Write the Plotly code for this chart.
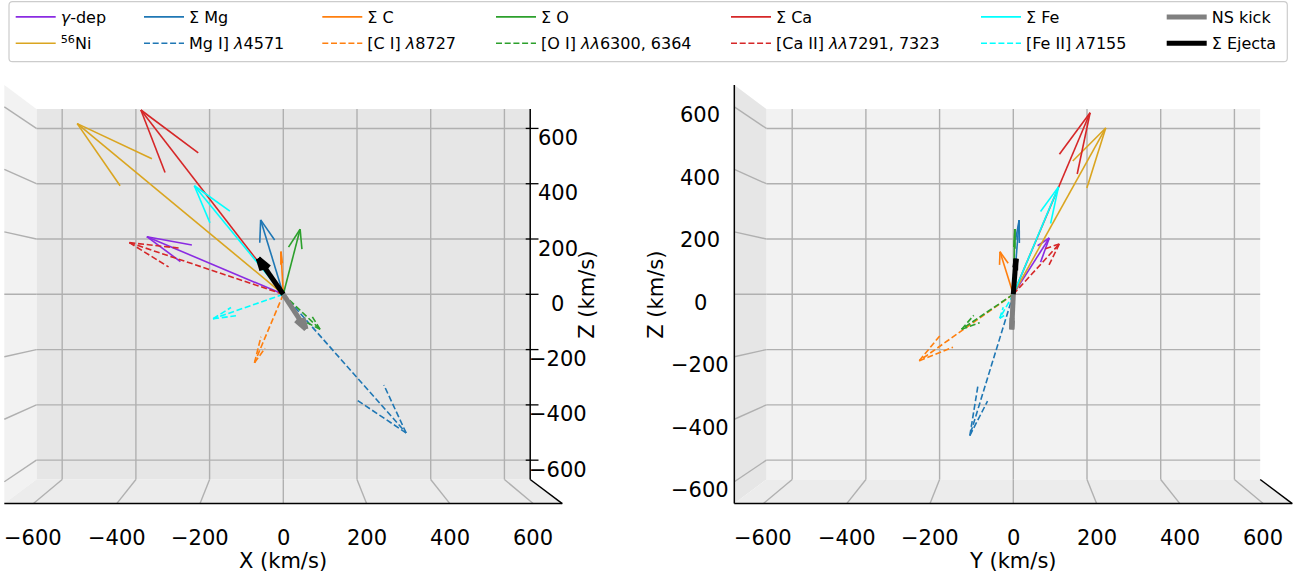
import math
import plotly.graph_objects as go

# ---------------- data (3D velocity vectors, km/s) ----------------
names = ["<i>γ</i>-dep", "<sup>56</sup>Ni", "Σ Mg", "Mg I] <i>λ</i>4571",
         "Σ C", "[C I] <i>λ</i>8727", "Σ O", "[O I] <i>λλ</i>6300, 6364",
         "Σ Ca", "[Ca II] <i>λλ</i>7291, 7323", "Σ Fe", "[Fe II] <i>λ</i>7155",
         "NS kick", "Σ Ejecta"]
vx = [-352, -539, -58, 311, -6, -72, 43, 93, -371, -398, -230, -179, 58, -64]
vy = [95, 248, 15, -108, -34, -242, 4, -131, 203, 122, 118, -35, -4, 7]
vz = [198, 595, 254, -468, 145, -228, 222, -118, 640, 178, 374, -83, -119, 122]
tick_vals = [-600, -400, -200, 0, 200, 400, 600]
tick_text = ["−600", "−400", "−200", "0", "200", "400", "600"]

# ---------------- styles ----------------
colors = ["#8a2be2", "#daa520", "#1f77b4", "#1f77b4", "#ff7f0e", "#ff7f0e",
          "#2ca02c", "#2ca02c", "#d62728", "#d62728", "#00ffff", "#00ffff",
          "#808080", "#000000"]
dashed = [False, False, False, True, False, True, False, True, False, True,
          False, True, False, False]
widths = [1.6] * 12 + [5, 5]
legend_col = [1, 1, 2, 2, 3, 3, 4, 4, 5, 5, 6, 6, 7, 7]
col_line_px = [15.7, 144, 322.3, 496, 731, 981, 1166.7]

W, H = 1301, 578
CY = 294.3
CX = [283.3, 1013.3]
SH, SV = 0.391, 0.2933
F, LIM = 16.4, 670.0
TOP_PX = 62
FONT = "DejaVu Sans"
DASH = "6px,2.7px"


def proj(view, p):
    X, Y, Z = p
    if view == 0:
        g = F / (F + Y / LIM)
        return X * g, Z * g
    g = F / (F - X / LIM)
    return Y * g, Z * g


def heads(U, ratio=0.3):
    u, v, w = U
    n = math.hypot(u, v)
    xp, yp = (v / n, -u / n) if n > 0 else (0.0, 1.0)
    c, s = math.cos(math.radians(15)), math.sin(math.radians(15))
    out = []
    for sg in (1, -1):
        R = [[c + xp * xp * (1 - c), xp * yp * (1 - c), sg * yp * s],
             [xp * yp * (1 - c), c + yp * yp * (1 - c), -sg * xp * s],
             [-sg * yp * s, sg * xp * s, c]]
        d = [sum(R[i][j] * U[j] for j in range(3)) for i in range(3)]
        out.append(tuple(U[i] - ratio * d[i] for i in range(3)))
    return out


fig = go.Figure()
axes = [("x", "y"), ("x2", "y2")]

for i, nm in enumerate(names):
    U = (vx[i], vy[i], vz[i])
    h1, h2 = heads(U)
    pts = [(0, 0, 0), U, None, U, h1, None, U, h2]
    for view in (0, 1):
        xs, ys = [], []
        for p in pts:
            if p is None:
                xs.append(None); ys.append(None)
            else:
                a, b = proj(view, p)
                xs.append(a); ys.append(b)
        lg = "legend" if legend_col[i] == 1 else f"legend{legend_col[i]}"
        fig.add_trace(go.Scatter(
            x=xs, y=ys, mode="lines", name=nm,
            xaxis=axes[view][0], yaxis=axes[view][1],
            line=dict(color=colors[i], width=widths[i],
                      dash=DASH if dashed[i] else "solid"),
            legendgroup=nm, showlegend=(view == 0), legend=lg,
            hoverinfo="skip"))

shapes = []
annotations = []


def u_of(view, px):
    return (px - CX[view]) / SH


def w_of(py):
    return (CY - py) / SV


def poly(view, corners, color):
    pp = [proj(view, c) for c in corners]
    path = "M " + " L ".join(f"{a:.3f},{b:.3f}" for a, b in pp) + " Z"
    shapes.append(dict(type="path", path=path, xref=axes[view][0], yref=axes[view][1],
                       fillcolor=color, line=dict(width=0), layer="below"))


def seg(view, p, q, color, width):
    a, b = proj(view, p)
    c, d = proj(view, q)
    shapes.append(dict(type="line", x0=a, y0=b, x1=c, y1=d,
                       xref=axes[view][0], yref=axes[view][1],
                       line=dict(color=color, width=width), layer="below"))


def label(xref, yref, x, y, text, angle=0):
    annotations.append(dict(x=x, y=y, xref=xref, yref=yref, text=text, showarrow=False,
                            textangle=angle, borderpad=0,
                            font=dict(size=21, family=FONT, color="black"),
                            xanchor="center", yanchor="middle"))


L = LIM
GRID = "#b0b0b0"
GW = 1.4
# ---- left panel: X-Z view ----
poly(0, [(-L, L, -L), (L, L, -L), (L, L, L), (-L, L, L)], "#e6e6e6")
poly(0, [(-L, -L, -L), (-L, L, -L), (-L, L, L), (-L, -L, L)], "#f2f2f2")
poly(0, [(-L, -L, -L), (L, -L, -L), (L, L, -L), (-L, L, -L)], "#ececec")
for t in tick_vals:
    seg(0, (t, L, -L), (t, L, L), GRID, GW)
    seg(0, (-L, L, t), (L, L, t), GRID, GW)
    seg(0, (t, L, -L), (t, -L, -L), GRID, GW)
    seg(0, (-L, L, t), (-L, -L, t), GRID, GW)
seg(0, (-L, -L, -L), (L, -L, -L), "black", 1.5)
seg(0, (L, -L, -L), (L, L, -L), "black", 1.5)
seg(0, (L, L, -L), (L, L, L), "black", 1.5)
for t, tt in zip(tick_vals, tick_text):
    _, wb = proj(0, (L, L, t))
    shapes.append(dict(type="line", x0=u_of(0, 525.7), x1=u_of(0, 538.5), y0=wb, y1=wb,
                       xref="x", yref="y", line=dict(color="black", width=1.3), layer="below"))
    label("x", "y", u_of(0, 557.5), wb - 9.5 / SV, tt)
    uf, _ = proj(0, (t, -L, -L))
    label("x", "y", uf, w_of(538), tt)
label("x", "y", 0, w_of(561), "X (km/s)")
label("x", "y", u_of(0, 586.7), w_of(295), "Z (km/s)", -90)

# ---- right panel: Y-Z view ----
poly(1, [(-L, -L, -L), (-L, L, -L), (-L, L, L), (-L, -L, L)], "#f2f2f2")
poly(1, [(-L, -L, -L), (L, -L, -L), (L, -L, L), (-L, -L, L)], "#e6e6e6")
poly(1, [(-L, -L, -L), (L, -L, -L), (L, L, -L), (-L, L, -L)], "#ececec")
for t in tick_vals:
    seg(1, (-L, t, -L), (-L, t, L), GRID, GW)
    seg(1, (-L, -L, t), (-L, L, t), GRID, GW)
    seg(1, (-L, t, -L), (L, t, -L), GRID, GW)
    seg(1, (-L, -L, t), (L, -L, t), GRID, GW)
seg(1, (L, -L, -L), (L, L, -L), "black", 1.5)
seg(1, (L, L, -L), (-L, L, -L), "black", 1.5)
seg(1, (L, -L, -L), (L, -L, L), "black", 1.5)
for t, tt in zip(tick_vals, tick_text):
    _, wf = proj(1, (L, -L, t))
    label("x2", "y2", u_of(1, 700), wf - 8.5 / SV, tt)
    uf, _ = proj(1, (L, t, -L))
    label("x2", "y2", uf, w_of(538), tt)
label("x2", "y2", 0, w_of(561), "Y (km/s)")
label("x2", "y2", u_of(1, 655.7), w_of(295), "Z (km/s)", -90)

# ---- legend frame (rounded) ----
x0, x1, y0, y1, r = 9.0, 1287.3, 1.7, 61.7, 3.5


def P(px, py):
    return f"{px / W:.5f},{1 - py / H:.5f}"


frame = (f"M {P(x0 + r, y0)} L {P(x1 - r, y0)} Q {P(x1, y0)} {P(x1, y0 + r)} "
         f"L {P(x1, y1 - r)} Q {P(x1, y1)} {P(x1 - r, y1)} L {P(x0 + r, y1)} "
         f"Q {P(x0, y1)} {P(x0, y1 - r)} L {P(x0, y0 + r)} Q {P(x0, y0)} {P(x0 + r, y0)} Z")
shapes.append(dict(type="path", path=frame, xref="paper", yref="paper",
                   line=dict(color="#cccccc", width=1.2), fillcolor="white", layer="below"))

layout = dict(
    width=W, height=H, autosize=False,
    margin=dict(l=0, r=0, t=0, b=0, pad=0),
    paper_bgcolor="white", plot_bgcolor="white",
    font=dict(family=FONT, size=16, color="black"),
    shapes=shapes, annotations=annotations,
    xaxis=dict(domain=[0, 640 / W], range=[u_of(0, 0), u_of(0, 640)], visible=False),
    yaxis=dict(domain=[0, 1 - TOP_PX / H], range=[w_of(H), w_of(TOP_PX)], visible=False),
    xaxis2=dict(domain=[650 / W, 1], range=[u_of(1, 650), u_of(1, W)], visible=False,
                anchor="y2"),
    yaxis2=dict(domain=[0, 1 - TOP_PX / H], range=[w_of(H), w_of(TOP_PX)], visible=False,
                anchor="x2"),
)
for k in range(1, 8):
    key = "legend" if k == 1 else f"legend{k}"
    layout[key] = dict(x=(col_line_px[k - 1] - 5) / W, y=1.0, xanchor="left",
                       yanchor="top", orientation="v", bgcolor="rgba(0,0,0,0)",
                       borderwidth=0, tracegroupgap=2.5, itemwidth=40,
                       font=dict(family=FONT, size=16, color="black"))
fig.update_layout(**layout)
fig.write_html("out.html",
               config={"displayModeBar": False},
               post_script="document.body.style.margin='0px';"
                           "document.body.style.overflow='hidden';")
